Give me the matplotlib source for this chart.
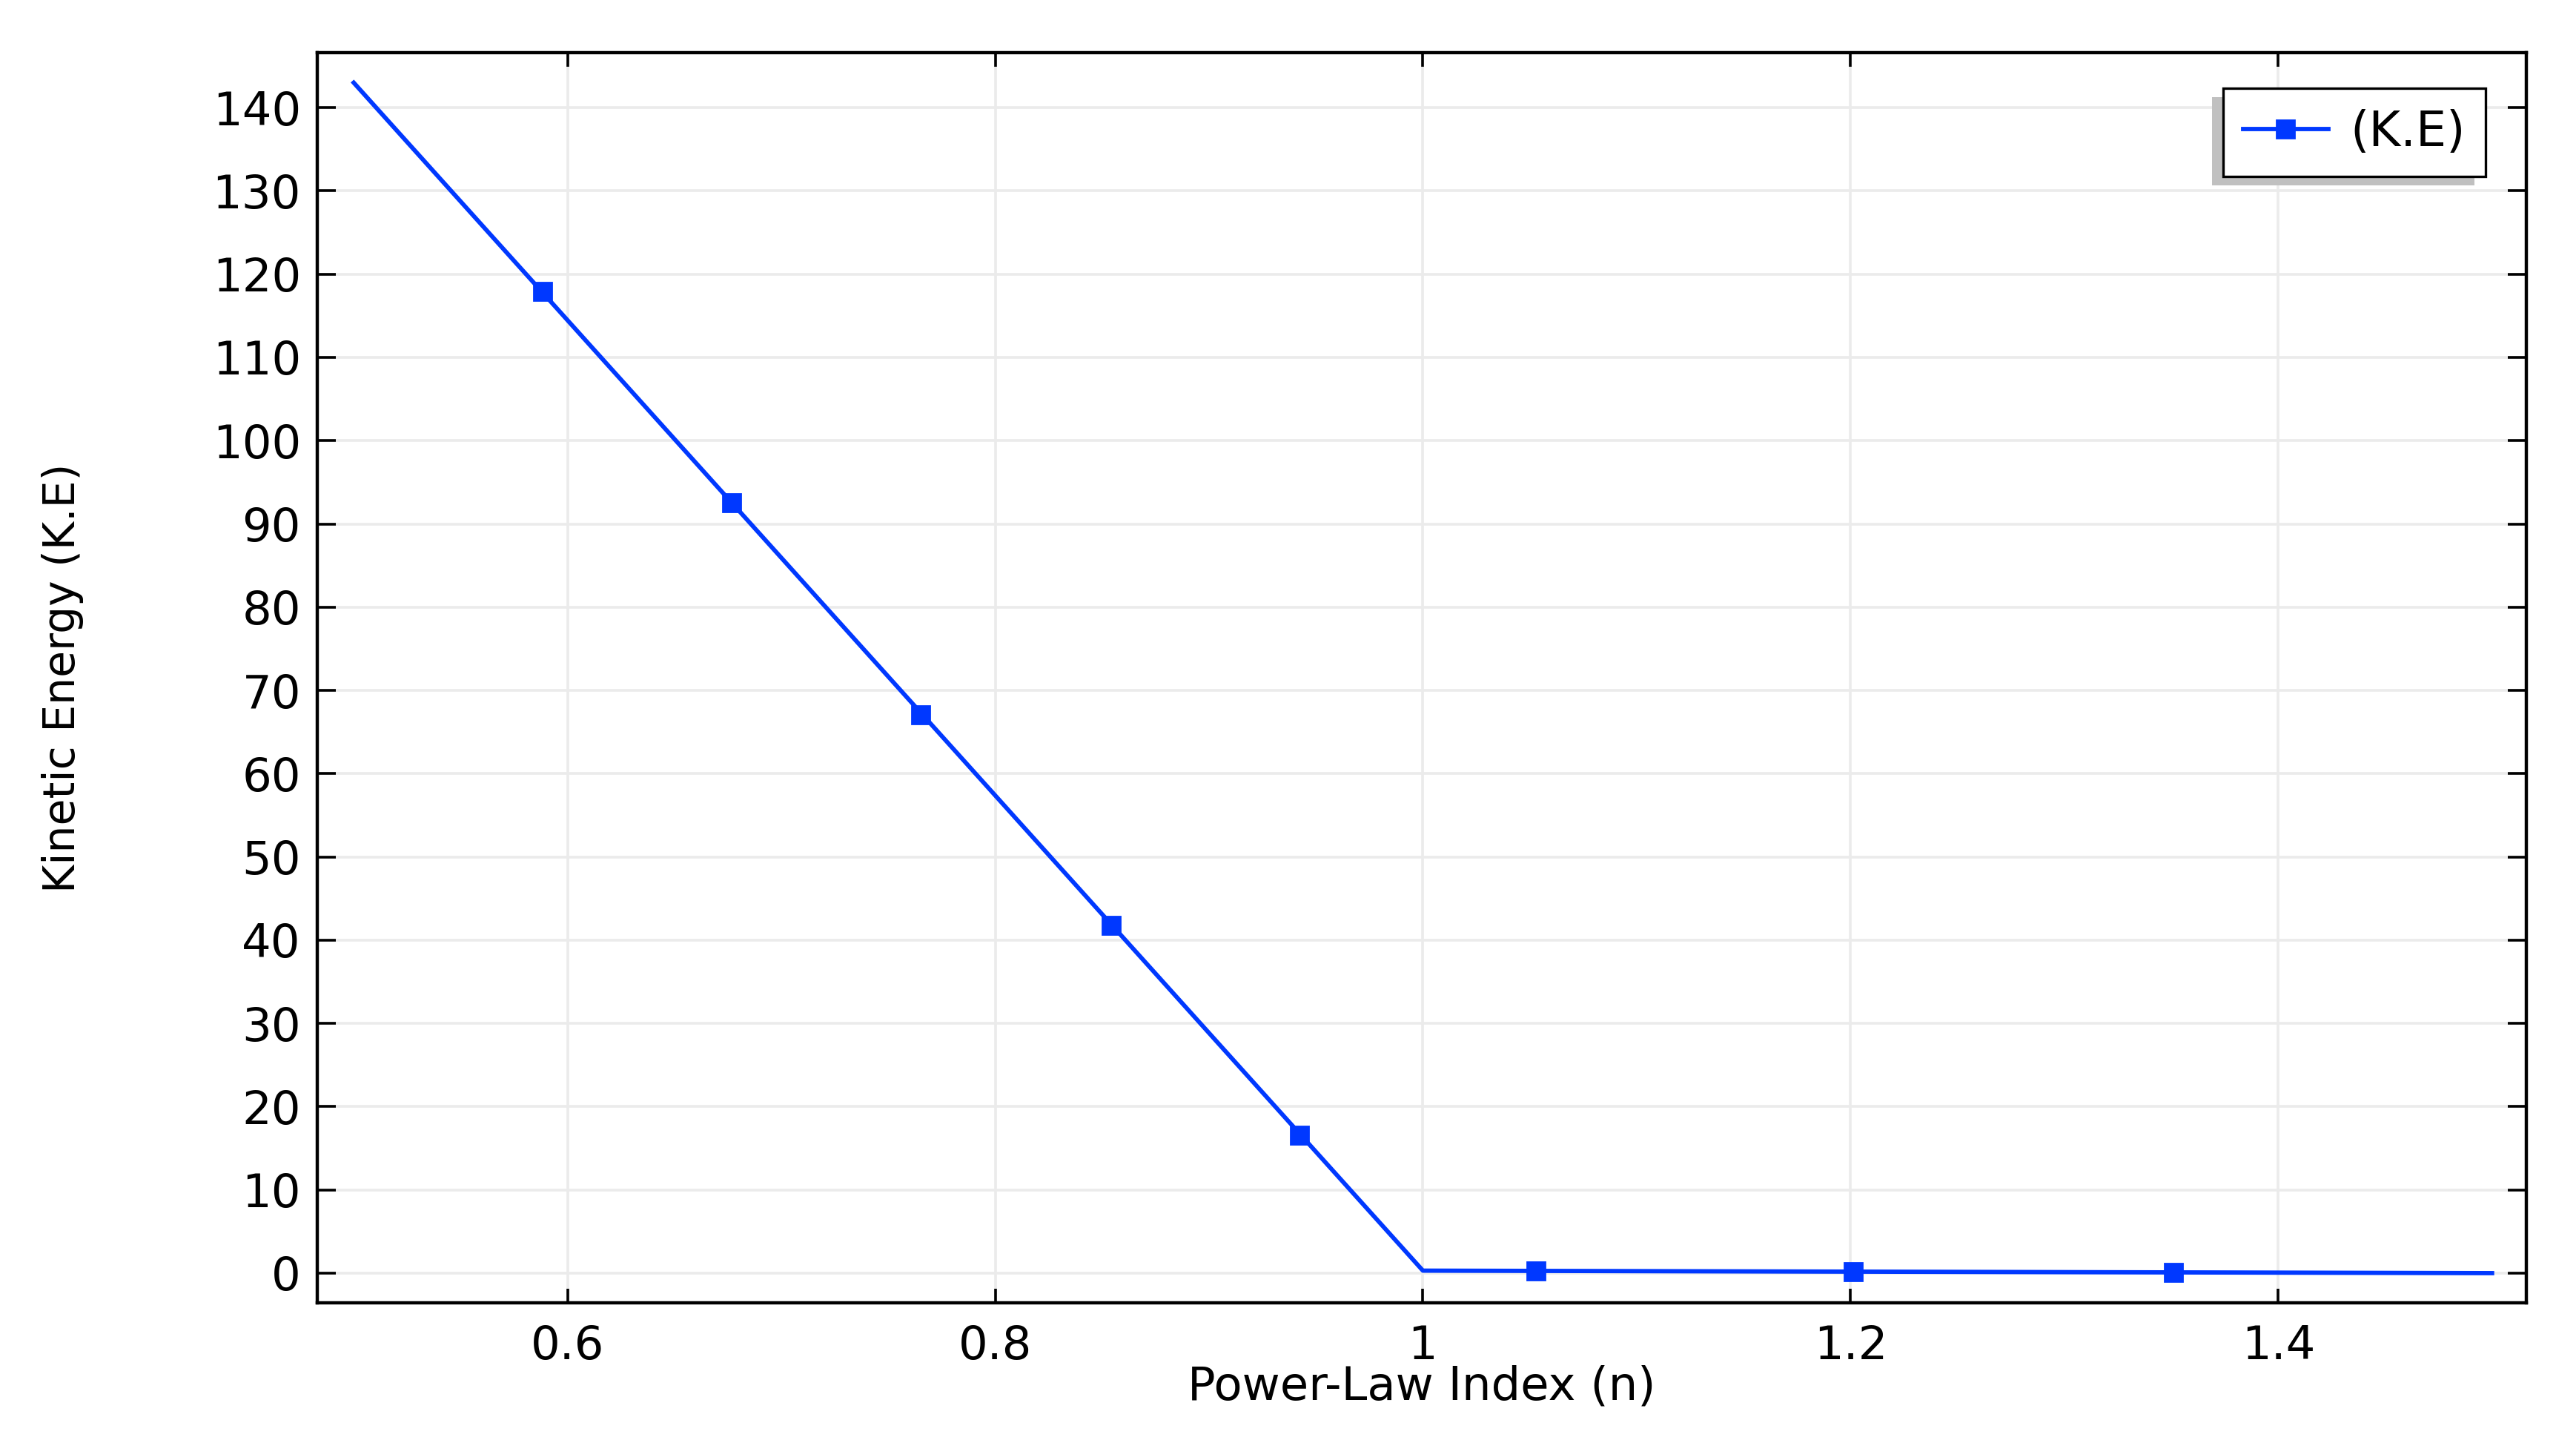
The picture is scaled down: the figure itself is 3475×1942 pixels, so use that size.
import matplotlib
matplotlib.use("Agg")
import matplotlib.pyplot as plt
from matplotlib.ticker import MultipleLocator

# ---- data ----
n_line = [0.5, 1.0, 1.5]
ke_line = [143.0, 0.3, 0.0]
n_marks = [0.5885, 0.6768, 0.7651, 0.8541, 0.9424, 1.0528, 1.2011, 1.3511]
ke_marks = [117.9, 92.5, 67.1, 41.8, 16.6, 0.25, 0.15, 0.1]
series_label = "(K.E)"
x_label = "Power-Law Index (n)"
y_label = "Kinetic Energy (K.E)"
x_ticks = [0.6, 0.8, 1.0, 1.2, 1.4]
x_ticklabels = ["0.6", "0.8", "1", "1.2", "1.4"]

BLUE = "#0038ff"
FS = 22.5

plt.rcParams["font.family"] = ["DejaVu Sans"]

fig = plt.figure(figsize=(17.375, 9.71), dpi=200)
ax = fig.add_axes([0.1232, 0.0953, 0.9807 - 0.1232, 0.9634 - 0.0953])

l1, = ax.plot(n_line, ke_line, color=BLUE, lw=2.1, zorder=3)
l2, = ax.plot(n_marks, ke_marks, ls="none", marker="s", ms=8.5,
              color=BLUE, mec=BLUE, zorder=4)

ax.set_xlim(0.483, 1.516)
ax.set_ylim(-3.56, 146.6)
ax.set_xticks(x_ticks)
ax.set_xticklabels(x_ticklabels)
ax.yaxis.set_major_locator(MultipleLocator(10))

ax.grid(True, color="#ebebeb", lw=1.3, zorder=0)
ax.set_axisbelow(True)

for s in ax.spines.values():
    s.set_linewidth(1.6)
    s.set_color("black")

ax.tick_params(axis="x", direction="in", length=7, width=1.3, top=True,
               labelsize=FS, pad=10.5, colors="black")
ax.tick_params(axis="y", direction="in", length=9, width=1.3, right=True,
               labelsize=FS, pad=8, colors="black")

ax.set_xlabel(x_label, fontsize=FS)
ax.xaxis.label.set_va("center")
ax.xaxis.set_label_coords(0.5, -0.0675)
ax.set_ylabel(y_label, fontsize=21)
ax.yaxis.label.set_va("center")
ax.yaxis.set_label_coords(-0.1154, 0.5)

leg = ax.legend([(l1, l2)], [series_label], loc="upper right",
                bbox_to_anchor=(0.9815, 0.9715), borderaxespad=0,
                fontsize=23.5, fancybox=False, framealpha=1,
                edgecolor="black", handlelength=1.75, handletextpad=0.45,
                borderpad=0.42,
                shadow={"ox": -5.4, "oy": -4.3, "facecolor": "#c0c0c0",
                        "edgecolor": "none", "alpha": 1})
leg.get_frame().set_linewidth(1.2)

fig.savefig("out.png", dpi=200)
